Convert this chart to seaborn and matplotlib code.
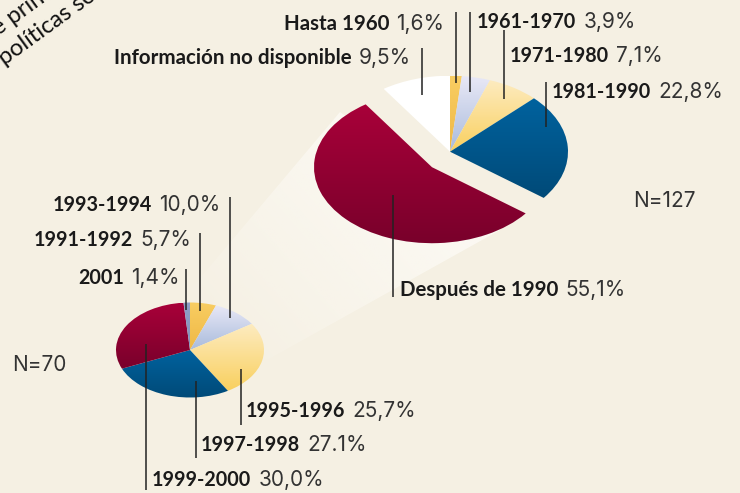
import numpy as np
import matplotlib
matplotlib.use("Agg")
import matplotlib.pyplot as plt
from matplotlib.patches import Polygon
import seaborn as sns

W, H = 740, 493
BG = "#f5f0e3"
sns.set_theme(style="white")
plt.rcParams["font.family"] = ["Lato", "DejaVu Sans"]
VALUE_FONT = ["Inter", "DejaVu Sans"]

# ---- data ----
recent_periods = ["Hasta 1960", "1961-1970", "1971-1980", "1981-1990", "Después de 1990", "Información no disponible"]
recent_values = [1.6, 3.9, 7.1, 22.8, 55.1, 9.5]
recent_labels = ["1,6%", "3,9%", "7,1%", "22,8%", "55,1%", "9,5%"]
detail_periods = ["1991-1992", "1993-1994", "1995-1996", "1997-1998", "1999-2000", "2001"]
detail_values = [5.7, 10.0, 25.7, 27.1, 30.0, 1.4]
detail_labels = ["5,7%", "10,0%", "25,7%", "27.1%", "30,0%", "1,4%"]

ORANGE = ("#f8cd62", "#efb845")
LAV = ("#e8e8f6", "#a9bbdc")
YEL = ("#fdebbf", "#f9d05f")
BLUE = ("#00629e", "#004a78")
RED = ("#a80039", "#79002b")
WHITE = ("#ffffff", "#ffffff")
SLATE = ("#8f9fc6", "#8293bb")
recent_cols = [ORANGE, LAV, YEL, BLUE, RED, WHITE]
detail_cols = [ORANGE, LAV, YEL, BLUE, RED, SLATE]

fig = plt.figure(figsize=(W / 100, H / 100), dpi=100, facecolor=BG)

# pixel-space overlay
over = fig.add_axes([0, 0, 1, 1], zorder=1)
over.set_xlim(0, W); over.set_ylim(H, 0); over.axis("off")

# light beam between the pies
beam = [(340, 112), (190, 290), (267, 360), (500, 230)]
xx, yy = np.meshgrid(np.linspace(150, 540, 200), np.linspace(100, 370, 140))
t = np.clip(((xx - 400) * (-0.75) + (yy - 170) * 0.66) / 250, 0, 1)
img = np.zeros(xx.shape + (4,))
img[..., :3] = matplotlib.colors.to_rgb("#fdfbf6")
img[..., 3] = (1 - t) ** 0.9 * 0.8
im = over.imshow(img, extent=(150, 540, 370, 100), aspect="auto", zorder=1)
poly = Polygon(beam, transform=over.transData, fc="none", ec="none")
over.add_patch(poly)
im.set_clip_path(poly)
over.set_xlim(0, W); over.set_ylim(H, 0)

M = 1.4  # room around each pie for the pulled-out slice


def pie_axes(cx, cy, rx, ry, z):
    ax = fig.add_axes([(cx - M * rx) / W, 1 - (cy + M * ry) / H, 2 * M * rx / W, 2 * M * ry / H], zorder=z)
    ax.patch.set_alpha(0)
    return ax


def gradient_pie(ax, values, cols, shift=None):
    wedges, _ = ax.pie(values, startangle=90, counterclock=False, radius=1,
                       wedgeprops=dict(fc="none", ec="none"))
    if shift:
        wedges[shift[0]].set_center(shift[1])
    for w, (top, bottom) in zip(wedges, cols):
        v = w.get_path().vertices
        ramp = np.array(sns.blend_palette([top, bottom], 64))[:, None, :]
        im = ax.imshow(ramp, extent=(v[:, 0].min(), v[:, 0].max(), v[:, 1].min(), v[:, 1].max()),
                       aspect="auto", zorder=2)
        im.set_clip_path(w)
    ax.set_aspect("auto")
    ax.set_xlim(-M, M); ax.set_ylim(-M, M)
    ax.axis("off")
    return wedges


big = pie_axes(450, 151.7, 118, 76, 2)
w_big = gradient_pie(big, recent_values, recent_cols, shift=(4, (-18 / 118, -15.5 / 76)))
small = pie_axes(190, 350, 74, 47.5, 2)
w_small = gradient_pie(small, detail_values, detail_cols)

# second overlay for lines and labels, above pies
top = fig.add_axes([0, 0, 1, 1], zorder=5)
top.set_xlim(0, W); top.set_ylim(H, 0); top.axis("off"); top.patch.set_alpha(0)

leaders = [(456, 12, 83), (470, 12, 92), (504, 30, 99), (545.5, 82, 127), (393, 195, 297), (422, 48, 95),
           (200, 233, 311), (230, 197, 318), (241, 369, 425), (196, 381, 458), (145.5, 344, 490), (186, 269, 310)]
for x, y0, y1 in leaders:
    top.plot([x, x], [y0, y1], color="#222222", lw=1.1, solid_capstyle="butt")

anchors = [(284, 30), (477, 28), (510, 62), (552, 98), (400, 296), (114, 64),
           (34, 246), (53, 211), (246, 417), (201, 451), (152, 486), (78, 284)]
names = recent_periods + detail_periods
vals = recent_labels + detail_labels
FS = 14.2
FS_WORDS = 14.8   # labels with words run a little wider than the year ranges
FS_VALUE = 15.0
fig.canvas.draw()
rend = fig.canvas.get_renderer()
for (x, y), n, v in zip(anchors, names, vals):
    size = FS_WORDS if any(c.isalpha() for c in n) else FS
    b = top.text(x, y, n, fontsize=size, fontweight="bold", color="#1a1a1a", va="baseline", ha="left")
    wpx = b.get_window_extent(rend).width
    top.text(x + wpx + 7, y, v, fontsize=FS_VALUE, family=VALUE_FONT, color="#333333", va="baseline", ha="left")

top.text(633, 207, "N=127", fontsize=FS_VALUE, family=VALUE_FONT, color="#333333", va="baseline")
top.text(12, 371, "N=70", fontsize=FS_VALUE, family=VALUE_FONT, color="#333333", va="baseline")

# cropped running text at the top-left corner
fig.text(-12 / W, 1 - 44 / H, "de principales", fontsize=17, color="#111111", rotation=36,
         rotation_mode="anchor", va="baseline", ha="left")
fig.text(5 / W, 1 - 66 / H, "políticas sobre", fontsize=17, color="#111111", rotation=36,
         rotation_mode="anchor", va="baseline", ha="left")

fig.savefig("out.png", dpi=100, facecolor=BG)
